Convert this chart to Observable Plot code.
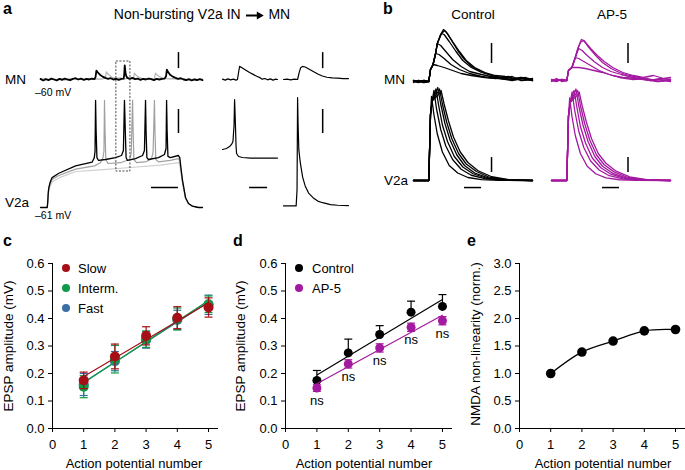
<!DOCTYPE html>
<html><head><meta charset="utf-8">
<script src="https://cdn.jsdelivr.net/npm/d3@7"></script>
<script src="https://cdn.jsdelivr.net/npm/@observablehq/plot@0.6"></script>
<style>
body{margin:0;background:#fff;}
#fig{position:relative;width:685px;height:470px;overflow:hidden;font-family:"Liberation Sans",Arial,Helvetica,sans-serif;color:#000;background:#fff;}
#fig svg{position:absolute;}
.lbl{position:absolute;white-space:nowrap;line-height:1;}
</style></head><body><div id="fig"></div>
<script>
// ---------------- DATA ----------------
// Panel a: main recording (time ms, V2a membrane potential mV; MN deflection mV)
const aV2aBlack = [[0,-61],[25,-61],[27,-57],[29,-51],[31,-48.5],[36,-45],[43,-42.3],[68,-39.6],[130,-35],[191,-32.7],[199,-30],[202,-26],[204,6],[206,-13],[209,-29.8],[215,-31.6],[241,-31],[278,-29.8],[300,-28.5],[307,-25.4],[311,6],[314,-13],[317,-29.8],[322,-31.6],[352,-30.4],[378,-28.5],[385,-25.4],[389,6],[391,-13],[394,-29.8],[400,-31],[437,-29.8],[459,-27.9],[465,-24.1],[467,6],[469,-13],[472,-29.1],[481,-29.8],[511,-28.5],[516,-30],[520,-36],[526,-44],[537,-54.7],[548,-58.5],[563,-60.2],[585,-61],[600,-61]];
const aV2aGray = [[0,-61],[25,-61],[27,-57.5],[29,-52],[31,-49.5],[36,-46],[43,-43.5],[68,-41],[130,-37],[200,-35],[222,-33],[231,-30],[235,-26],[237,6],[239,-13],[242,-31],[250,-33.5],[296,-33],[330,-31],[336,-27],[341,6],[343,-13],[346,-31],[356,-33],[393,-32.3],[411,-30.5],[417,-26.5],[422,6],[424,-13],[427,-31],[437,-32.5],[481,-31.5],[511,-30.5],[516,-32],[520,-37.5],[526,-45],[537,-55],[548,-58.5],[563,-60.2],[585,-61],[600,-61]];
const aV2aLight = [[0,-61],[25,-61],[27,-58],[29,-53],[31,-50.5],[36,-47.5],[43,-45],[68,-42.5],[130,-38.5],[222,-37.5],[333,-36],[444,-34.5],[511,-33],[516,-34.5],[520,-39],[526,-46],[537,-55.5],[548,-58.7],[563,-60.3],[585,-61],[600,-61]];
const aMNBlack = [[0,0.02],[10,-0.03],[20,0.01],[30,-0.02],[40,0.03],[50,0.0],[60,-0.03],[70,0.02],[80,-0.01],[90,0.03],[100,0.0],[110,-0.02],[120,0.02],[130,0.04],[140,0.0],[150,0.03],[160,-0.01],[170,0.02],[180,0.0],[190,0.03],[200,0.01],[204,0.08],[207,0.28],[212,0.22],[220,0.15],[230,0.09],[240,0.05],[250,0.02],[260,0.04],[270,0.0],[280,0.02],[290,-0.01],[300,0.02],[308,0.03],[310,0.15],[312,0.44],[315,0.2],[318,0.1],[322,0.05],[330,0.02],[340,0.05],[350,0.01],[360,0.03],[370,-0.01],[380,0.02],[390,0.0],[400,0.03],[410,0.01],[420,-0.02],[430,0.02],[440,0.0],[450,0.02],[460,0.03],[465,0.1],[468,0.31],[472,0.24],[480,0.15],[490,0.09],[500,0.05],[510,0.02],[520,0.04],[530,0.0],[540,-0.02],[550,0.01],[560,-0.03],[570,0.0],[580,-0.02],[590,0.01],[600,-0.02]];
const aMNGray = [[0,0.0],[15,0.03],[30,-0.01],[45,0.02],[60,0.0],[75,0.03],[90,-0.02],[105,0.01],[120,0.03],[135,0.0],[150,0.02],[165,-0.01],[180,0.03],[195,0.0],[210,0.02],[225,0.01],[240,0.04],[244,0.24],[250,0.17],[260,0.1],[270,0.05],[280,0.03],[295,0.05],[310,0.01],[325,0.04],[340,0.02],[345,0.05],[348,0.2],[353,0.14],[363,0.08],[375,0.04],[390,0.02],[405,0.04],[415,0.01],[422,0.04],[426,0.2],[432,0.14],[442,0.08],[457,0.04],[472,0.02],[490,0.03],[510,0.0],[530,0.02],[550,-0.01],[570,0.02],[585,0.0],[600,0.01]];
// Panel a insets (time ms)
const aIn1MN = [[0,0.01],[1.5,-0.02],[3,0.02],[4.5,-0.01],[6,0.01],[7.5,-0.02],[8.3,0.0],[9,0.25],[9.5,0.41],[11,0.36],[13,0.29],[15,0.22],[17,0.16],[19,0.1],[21,0.05],[22,0.01],[23.5,0.03],[25,-0.01],[26.5,0.02],[28,-0.02],[29.5,0.01],[30.5,0.0]];
const aIn1V2a = [[0,-24.75],[2.2,-24.1],[3.9,-22.9],[5,-21.6],[5.8,-19.75],[6.4,-9.75],[6.7,6.5],[7.1,-6.6],[7.5,-22.25],[7.8,-27.25],[8.9,-29.1],[11.1,-29.75],[15.6,-30.1],[21.1,-30.1],[30.5,-30.1]];
const aIn2MN = [[0,0.0],[2,0.01],[4,-0.01],[6,0.01],[7.8,0.0],[8.6,0.2],[9.5,0.37],[10.5,0.41],[12,0.39],[14,0.33],[16.5,0.25],[19,0.17],[21.5,0.11],[24,0.07],[27,0.05],[30,0.04],[33,0.03],[36,0.03]];
const aIn2V2a = [[0,-60],[7,-60],[7.5,-50],[7.8,7.75],[8.1,-10],[8.5,-25],[9.3,-33],[10.6,-42],[12,-47.5],[13.9,-52],[16.5,-55],[19,-57],[21.7,-58],[26,-59.2],[30,-59.6],[36,-59.8]];
// Panel b (time ms, deflection mV)
const bCtrlMN = [
 [[0,0.01],[3,-0.01],[6,0.01],[9,0],[10,0.12],[11.5,0.17],[13,0.28],[14,0.38],[16,0.47],[17.6,0.52],[19,0.5],[22,0.42],[26,0.31],[30,0.22],[35,0.14],[40,0.1],[46,0.06],[52,0.04],[58,0.02],[64,0.04],[70,0.01]],
 [[0,0],[3,0.01],[6,-0.01],[9,0],[10,0.12],[11.5,0.17],[13,0.28],[14,0.38],[16.5,0.48],[18,0.47],[21,0.4],[25,0.3],[29,0.21],[34,0.14],[40,0.09],[46,0.06],[52,0.03],[58,0.05],[64,0.01],[70,0.03]],
 [[0,0.01],[3,0],[6,0.01],[9,0],[10,0.12],[11.5,0.17],[13,0.28],[14,0.38],[16,0.36],[19,0.3],[23,0.22],[28,0.15],[33,0.1],[40,0.07],[48,0.04],[56,0.02],[63,0.04],[70,0.01]],
 [[0,-0.01],[3,0.01],[6,0],[9,0],[10,0.12],[11.5,0.17],[13,0.28],[15,0.27],[18,0.23],[22,0.17],[27,0.12],[33,0.08],[40,0.05],[48,0.03],[56,0.05],[63,0.01],[70,0.02]],
 [[0,0],[3,-0.01],[6,0.01],[9,0],[10,0.12],[11.8,0.17],[14,0.16],[18,0.14],[23,0.11],[28,0.08],[34,0.06],[42,0.04],[50,0.03],[58,0.01],[64,0.03],[70,0.01]],
 [[0,0.01],[3,0],[6,-0.01],[9,0],[10,0.12],[11.5,0.17],[13,0.28],[14,0.38],[16,0.47],[18.2,0.51],[20,0.48],[23,0.4],[27,0.3],[31,0.21],[36,0.14],[42,0.09],[48,0.06],[54,0.05],[60,0.02],[66,0.04],[70,0.02]]
];
const bAP5MN = [
 [[0,0],[3,0.02],[6,-0.01],[9,0],[10,0.1],[12,0.13],[14,0.23],[15.5,0.32],[17.6,0.41],[19,0.4],[22,0.33],[26,0.25],[30,0.18],[35,0.12],[40,0.08],[46,0.05],[52,0.03],[58,0.0],[64,0.02],[70,0.01]],
 [[0,0.01],[3,-0.01],[6,0.01],[9,0],[10,0.1],[12,0.13],[14,0.23],[15.5,0.32],[17,0.38],[18.8,0.4],[20,0.38],[23,0.32],[27,0.25],[31,0.19],[36,0.13],[42,0.08],[48,0.05],[54,0.03],[60,0.05],[66,0.02],[70,0.03]],
 [[0,-0.01],[3,0.01],[6,0],[9,0],[10,0.1],[12,0.13],[14,0.23],[16,0.32],[18,0.3],[21,0.25],[25,0.19],[30,0.13],[35,0.09],[41,0.06],[48,0.03],[55,0.01],[62,-0.01],[70,0.0]],
 [[0,0.01],[3,0],[6,0.01],[9,0],[10,0.1],[12,0.13],[14,0.23],[16,0.22],[19,0.19],[23,0.15],[28,0.1],[34,0.06],[40,0.03],[48,0.01],[56,0.02],[63,-0.01],[70,0.01]],
 [[0,0],[3,-0.01],[6,0.01],[9,0],[10,0.1],[12,0.13],[16,0.13],[20,0.12],[25,0.1],[30,0.08],[36,0.05],[42,0.03],[50,0.02],[58,0.0],[64,0.01],[70,-0.01]]
];
const bCtrlV2a = [
 [[0,0],[9,0],[10,44],[10.6,56],[12,44],[14,31],[17,19],[21,10],[26,5],[32,2],[40,0.6],[50,0.1],[70,0]],
 [[0,0],[9,0],[10,44],[11,53],[12,60],[13.5,48],[16,34],[19,23],[23,14],[28,7.5],[34,3.5],[42,1.2],[52,0.2],[70,0]],
 [[0,0],[9,0],[10,44],[11,53],[12.2,58],[13.2,61],[14.8,50],[17,37],[20,26],[24,16],[29,9],[35,4.5],[43,1.5],[53,0.3],[70,0]],
 [[0,0],[9,0],[10,44],[11,53],[13.3,59],[14.3,62],[16,51],[18.5,38],[21.5,27],[25.5,17],[30,10],[36,5],[44,1.8],[54,0.4],[70,0]],
 [[0,0],[9,0],[10,44],[11,53],[14.3,59],[15.3,61],[17,51],[19.5,39],[22.5,28],[26.5,18],[31,11],[37,6],[45,2],[55,0.5],[70,0]],
 [[0,0],[9,0],[10,44],[11,53],[15.2,58],[16.2,60],[18,51],[20.5,40],[23.5,29],[27.5,19],[32,12],[38,6.5],[46,2.5],[56,0.6],[70,0]]
];
const bAP5V2a = [
 [[0,0],[9,0],[10,43],[10.7,55],[12,43],[14,30],[17,18],[21,9.5],[26,4.5],[32,1.8],[40,0.5],[50,0.1],[70,0]],
 [[0,0],[9,0],[10,43],[11,52],[12.1,59],[13.6,47],[16,33],[19,22],[23,13],[28,7],[34,3.2],[42,1.1],[52,0.2],[70,0]],
 [[0,0],[9,0],[10,43],[11,52],[12.3,57],[13.3,60],[14.9,49],[17,36],[20,25],[24,15],[29,8.5],[35,4.2],[43,1.4],[53,0.3],[70,0]],
 [[0,0],[9,0],[10,43],[11,52],[13.4,58],[14.4,61],[16,50],[18.5,37],[21.5,26],[25.5,16],[30,9.5],[36,4.8],[44,1.7],[54,0.4],[70,0]],
 [[0,0],[9,0],[10,43],[11,52],[14.4,58],[15.4,60],[17,50],[19.5,38],[22.5,27],[26.5,17],[31,10.5],[37,5.6],[45,2],[55,0.5],[70,0]],
 [[0,0],[9,0],[10,43],[11,52],[15.3,57],[16.3,59],[18,50],[20.5,39],[23.5,28],[27.5,18],[32,11.5],[38,6.2],[46,2.4],[56,0.6],[70,0]]
];
// Panels c-e
const apNumber = [1, 2, 3, 4, 5];
const slowAmp = [0.175, 0.262, 0.337, 0.403, 0.440];
const slowErr = [0.030, 0.045, 0.033, 0.040, 0.035];
const intermAmp = [0.152, 0.252, 0.325, 0.398, 0.452];
const intermErr = [0.040, 0.050, 0.030, 0.040, 0.030];
const fastAmp = [0.160, 0.245, 0.322, 0.395, 0.450];
const fastErr = [0.040, 0.035, 0.030, 0.035, 0.035];
const controlAmp = [0.175, 0.275, 0.342, 0.423, 0.444];
const controlErr = [0.036, 0.050, 0.032, 0.040, 0.043];
const ap5Amp = [0.147, 0.235, 0.293, 0.368, 0.392];
const ap5Err = [0.012, 0.015, 0.015, 0.015, 0.015];
const sigLabels = ["ns", "ns", "ns", "ns", "ns"];
const nmdaNonlin = [1.00, 1.39, 1.59, 1.775, 1.80];
const ampTicks = [0, 0.1, 0.2, 0.3, 0.4, 0.5, 0.6];
const nmdaTicks = [0, 0.5, 1.0, 1.5, 2.0, 2.5, 3.0];
const xTicks = [0, 1, 2, 3, 4, 5];

// ---------------- STYLE / LAYOUT ----------------
const FONT = '"Liberation Sans", Arial, Helvetica, sans-serif';
const slowColor = "#a50f15", intermColor = "#0e9a48", fastColor = "#3a6ea5", ap5Color = "#a3199f";
const fig = document.getElementById("fig");

function overlay(x, y, marks) {
  const svg = Plot.plot({
    width: 685, height: 470, margin: 0,
    x: {...x, axis: null}, y: {...y, axis: null},
    style: {background: "transparent", overflow: "visible", position: "absolute", left: "0px", top: "0px"},
    marks
  });
  fig.append(svg);
}
const trace = (d, stroke = "#000", w = 1.2) => Plot.line(d, {stroke, strokeWidth: w, strokeLinejoin: "round", strokeLinecap: "round"});
const vbar = (t, v1, v2) => Plot.ruleX([{t, v1, v2}], {x: "t", y1: "v1", y2: "v2", strokeWidth: 1.5});
const hbar = (t1, t2, v) => Plot.ruleY([{t1, t2, v}], {y: "v", x1: "t1", x2: "t2", strokeWidth: 1.5});

// Panel a scales (pixel ranges = layout)
const aT = {domain: [0, 600], range: [40, 202]};
const aIn1T = {domain: [0, 30.5], range: [222, 277]};
const aIn2T = {domain: [0, 36], range: [283, 348]};
const aV = {domain: [-61, 9], range: [207, 95]};
const aMN = {domain: [0, 1], range: [79, 47]};

// a: main MN + V2a
overlay(aT, aMN, [trace(aMNGray, "#b5b5b5", 1.2), trace(aMNBlack, "#000", 1.8), vbar(511, 0.34, 0.84)]);
overlay(aT, aV, [
  trace(aV2aLight, "#cfcfcf", 1.2), trace(aV2aGray, "#a0a0a0", 1.2), trace(aV2aBlack, "#000", 1.3),
  Plot.rect([{t1: 281, t2: 333, v1: -38.5, v2: 30.25}], {x1: "t1", x2: "t2", y1: "v1", y2: "v2", fill: "none", stroke: "#333", strokeWidth: 0.9, strokeDasharray: "2,1.5"}),
  vbar(511, -14.75, 0.25), hbar(411, 511, -48.5)
]);
// a: insets
overlay(aIn1T, aMN, [trace(aIn1MN, "#000", 1.2)]);
overlay(aIn1T, aV, [trace(aIn1V2a, "#000", 1.2), hbar(15, 25, -48.5)]);
overlay(aIn2T, aMN, [trace(aIn2MN, "#000", 1.2), vbar(21.7, 0.34, 0.84)]);
overlay(aIn2T, aV, [trace(aIn2V2a, "#000", 1.2), vbar(21.7, -14.75, 0.25)]);

// Panel b scales
const bCT = {domain: [0, 70], range: [413, 532]};
const bAT = {domain: [0, 70], range: [551, 670]};
const bCMN = {domain: [0, 0.5], range: [81, 31]};
const bAMN = {domain: [0, 0.5], range: [80, 30]};
const bV = {domain: [0, 60], range: [180, 90]};
overlay(bCT, bCMN, [...bCtrlMN.map(d => trace(d, "#000", 1.3)), vbar(45.9, 0.18, 0.38)]);
overlay(bCT, bV, [...bCtrlV2a.map(d => trace(d, "#000", 1.3)), vbar(45.9, 5.3, 15.3), hbar(30, 40, -4.7)]);
overlay(bAT, bAMN, [...bAP5MN.map(d => trace(d, ap5Color, 1.3)), vbar(45, 0.17, 0.37)]);
overlay(bAT, bV, [...bAP5V2a.map(d => trace(d, ap5Color, 1.3)), vbar(45, 5.3, 15.3), hbar(30, 40, -4.7)]);

// ---------------- bottom charts ----------------
const cap = {draw(ctx, size) { const w = Math.sqrt(size / Math.PI); ctx.moveTo(-w, 0); ctx.lineTo(w, 0); }};
const rows = (amp, err) => apNumber.map((x, i) => ({x, y: amp[i], e: err[i], lo: amp[i] - err[i], hi: amp[i] + err[i], s: sigLabels[i]}));

function bottom(left, marginLeft, marginRight, yDomain, yTicks, marks) {
  const svg = Plot.plot({
    width: 230, height: 230, marginTop: 23, marginBottom: 42, marginLeft, marginRight,
    x: {domain: [0, 5.32], ticks: xTicks, tickSize: 4, tickPadding: 7, label: null, tickFormat: d3.format("d")},
    y: {domain: yDomain, ticks: yTicks, tickSize: 4, tickPadding: 4, label: null, tickFormat: d3.format(".1f")},
    style: {background: "transparent", overflow: "visible", position: "absolute", left: left + "px", top: "240px", fontSize: "13px", fontFamily: FONT, color: "#000"},
    marks: [Plot.ruleX([0], {strokeWidth: 1}), Plot.ruleY([0], {strokeWidth: 1}), ...marks]
  });
  fig.append(svg);
}
function series(data, color, r, twoSided = true) {
  return [
    Plot.linearRegressionY(data, {x: "x", y: "y", stroke: color, strokeWidth: 1.2, ci: 0}),
    Plot.ruleX(data, {x: "x", y1: twoSided ? "lo" : "y", y2: "hi", stroke: color, strokeWidth: 1.2}),
    Plot.dot(data, {x: "x", y: "hi", symbol: cap, r: 4, stroke: color, fill: "none", strokeWidth: 1.2}),
    ...(twoSided ? [Plot.dot(data, {x: "x", y: "lo", symbol: cap, r: 4, stroke: color, fill: "none", strokeWidth: 1.2})] : []),
    Plot.dot(data, {x: "x", y: "y", r, fill: color, stroke: "none"})
  ];
}
// c
bottom(0, 52, 12, [0, 0.6], ampTicks, [
  ...series(rows(fastAmp, fastErr), fastColor, 5),
  ...series(rows(intermAmp, intermErr), intermColor, 5),
  ...series(rows(slowAmp, slowErr), slowColor, 5)
]);
// d
const apRows = rows(ap5Amp, ap5Err);
bottom(230, 55, 8, [0, 0.6], ampTicks, [
  ...series(rows(controlAmp, controlErr), "#000", 4.5, false),
  ...series(apRows, ap5Color, 4.5),
  Plot.text(apRows, {x: "x", y: "y", text: "s", dy: 13, fontSize: 13, fontFamily: FONT, fill: "#000"})
]);
// e
const eRows = apNumber.map((x, i) => ({x, y: nmdaNonlin[i]}));
bottom(455, 64, 0, [0, 3], nmdaTicks, [
  Plot.line(eRows, {x: "x", y: "y", curve: "natural", strokeWidth: 1.3}),
  Plot.dot(eRows, {x: "x", y: "y", r: 4.8, fill: "#000"})
]);

// ---------------- text ----------------
function txt(s, x, y, o = {}) {
  const d = document.createElement("div");
  d.className = "lbl";
  if (o.html) d.innerHTML = s; else d.textContent = s;
  d.style.left = x + "px"; d.style.top = y + "px";
  d.style.fontSize = (o.size || 13) + "px";
  if (o.bold) d.style.fontWeight = "bold";
  const ax = o.anchor === "middle" ? "-50%" : o.anchor === "end" ? "-100%" : "0";
  d.style.transform = `translate(${ax},-50%)` + (o.rotate ? " rotate(-90deg)" : "");
  fig.append(d);
}
function ldot(x, y, r, color) {
  const d = document.createElement("div");
  Object.assign(d.style, {position: "absolute", left: (x - r) + "px", top: (y - r) + "px", width: 2 * r + "px", height: 2 * r + "px", borderRadius: "50%", background: color});
  fig.append(d);
}
// panel letters
txt("a", 3, 9, {size: 16, bold: true});
txt("b", 383, 9, {size: 16, bold: true});
txt("c", 3, 241, {size: 16, bold: true});
txt("d", 233, 241, {size: 16, bold: true});
txt("e", 467, 241, {size: 16, bold: true});
// panel a
txt('Non-bursting V2a IN <svg width="18" height="9" style="position:static;vertical-align:middle;margin:0 1px"><path d="M0 4.5H13" stroke="#000" stroke-width="2.2"/><path d="M11 0.5L18 4.5L11 8.5Z" fill="#000"/></svg> MN', 202, 14, {size: 14, anchor: "middle", html: true});
txt("MN", 5, 80, {size: 13.5});
txt("–60 mV", 35, 92, {size: 10.5});
txt("V2a", 5, 203, {size: 13.5});
txt("–61 mV", 35, 215, {size: 10.5});
// panel b
txt("Control", 473, 15, {size: 13.5, anchor: "middle"});
txt("AP-5", 612, 15, {size: 13.5, anchor: "middle"});
txt("MN", 384, 80, {size: 13.5});
txt("V2a", 384, 181, {size: 13.5});
// axis labels
txt("EPSP amplitude (mV)", 9, 346, {size: 13.5, anchor: "middle", rotate: true});
txt("Action potential number", 134, 463, {size: 13, anchor: "middle"});
txt("EPSP amplitude (mV)", 241, 346, {size: 13.5, anchor: "middle", rotate: true});
txt("Action potential number", 364, 463, {size: 13, anchor: "middle"});
txt("NMDA non-linearity (norm.)", 476, 344, {size: 13.5, anchor: "middle", rotate: true});
txt("Action potential number", 603, 463, {size: 13, anchor: "middle"});
// legends
ldot(66, 268, 4, slowColor); txt("Slow", 78, 268, {size: 13});
ldot(66, 288, 4, intermColor); txt("Interm.", 78, 288, {size: 13});
ldot(66, 308, 4, fastColor); txt("Fast", 78, 308, {size: 13});
ldot(299, 268, 4, "#000"); txt("Control", 312, 268, {size: 13});
ldot(299, 288, 4, ap5Color); txt("AP-5", 312, 288, {size: 13});
</script></body></html>
